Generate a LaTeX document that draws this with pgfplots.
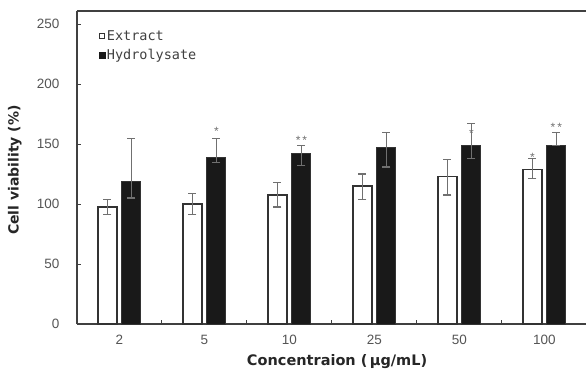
\documentclass[border=0pt]{standalone}
\usepackage{pgfplots}
\pgfplotsset{compat=1.18}
\usepackage{pgfplotstable}
\usepackage{fontspec}
\setmainfont{Liberation Sans}
\newfontfamily\labfont{DejaVu Sans}
\newfontfamily\monofont{DejaVu Sans Mono}
\definecolor{tickgray}{HTML}{555555}
\definecolor{errgray}{HTML}{707070}
\definecolor{axgray}{HTML}{404040}

% x positions: group index -/+ 0.1412 (bar offset)
\pgfplotstableread{
xw xb w wp wm b bp bm
-0.1412 0.1412 97.5 6 6 119 36 14
0.8588 1.1412 100 9 9 139 16 4
1.8588 2.1412 107.5 10.5 10 142.5 6.5 10
2.8588 3.1412 115 10 11 147.5 12.5 16.5
3.8588 4.1412 123 14.5 15.5 149 18.5 11
4.8588 5.1412 129 9 8 149 11 0
}\data

\pgfplotstableread{
x y s
1.1412 164 *
2.1412 156.5 *\,*
4.1412 162.5 *
4.8588 142.5 *
5.1412 167.5 *\,*
}\stars

\begin{document}
\begin{tikzpicture}
\begin{axis}[
  name=ax, scale only axis, width=509pt, height=313pt,
  xmin=-0.5, xmax=5.49, ymin=0, ymax=261,
  axis x line=box, axis y line=left,
  axis line style={-, draw=axgray, line width=1.4pt},
  xtick={0,...,5}, xticklabels={2,5,10,25,50,100},
  major x tick style={draw=none},
  minor xtick={0.5,1.5,2.5,3.5,4.5},
  minor tick length=4pt,
  ytick={0,50,...,250}, major tick length=4pt,
  tick align=inside, xtick pos=bottom, ytick pos=left,
  tick style={draw=axgray, line width=1pt},
  /pgf/number format/assume math mode=true,
  tick label style={font=\fontsize{13.5}{13.5}\selectfont, text=tickgray},
  yticklabel style={xshift=-14pt},
  xticklabel style={yshift=-8pt},
  xlabel={\labfont\bfseries Concentraion (\,μg/mL)},
  ylabel={\labfont\bfseries Cell viability (\%)},
  x label style={at={(axis description cs:0.511,-0.121)}, anchor=center, font=\fontsize{14.5}{14.5}\selectfont, text=black!85},
  y label style={at={(axis description cs:-0.122,0.492)}, anchor=center, font=\fontsize{14}{14}\selectfont, text=black!85},
  clip=false,
]
\addplot[ybar, bar width=19pt, bar shift=0pt, fill=white, draw=black!80, line width=1.4pt,
  error bars/.cd, y dir=both, y explicit,
  error bar style={line width=1.2pt, errgray},
  error mark options={rotate=90, mark size=4pt, line width=1.2pt, errgray},
]
  table[x=xw, y=w, y error plus=wp, y error minus=wm] {\data};
\addplot[ybar, bar width=19pt, bar shift=0pt, fill=black!90, draw=black!80, line width=1pt,
  error bars/.cd, y dir=both, y explicit,
  error bar style={line width=1.2pt, errgray},
  error mark options={rotate=90, mark size=4pt, line width=1.2pt, errgray},
]
  table[x=xb, y=b, y error plus=bp, y error minus=bm] {\data};
\addplot[draw=none, forget plot, nodes near coords, point meta=explicit symbolic,
  nodes near coords style={anchor=north, inner sep=0pt, font=\fontsize{12}{12}\selectfont, text=errgray}]
  table[x=x, y=y, meta=s] {\stars};
\end{axis}
\begin{axis}[
  scale only axis, width=509pt, height=313pt, at={(ax.south west)}, anchor=south west,
  xmin=0, xmax=1, ymin=0, ymax=1, hide axis,
  legend style={at={(axis description cs:0.042,0.943)}, anchor=north west, draw=none, fill=none,
    font=\monofont\fontsize{13.5}{13.5}\selectfont, text=black!75, row sep=4.5pt, inner sep=0pt,
    nodes={inner sep=1.5pt}},
  legend cell align=left,
]
\addlegendimage{legend image code/.code={\draw[line width=1.2pt, draw=black!80, fill=white] (0.6pt,-2.6pt) rectangle (5.8pt,2.6pt);}}
\addlegendentry{Extract}
\addlegendimage{legend image code/.code={\fill[black!90] (0pt,-3.2pt) rectangle (6.4pt,3.2pt);}}
\addlegendentry{Hydrolysate}
\end{axis}
\pgfresetboundingbox
\path[use as bounding box] ([xshift=-77pt,yshift=-49pt]ax.south west) rectangle ([yshift=11pt]ax.north east);
\end{tikzpicture}
\end{document}
